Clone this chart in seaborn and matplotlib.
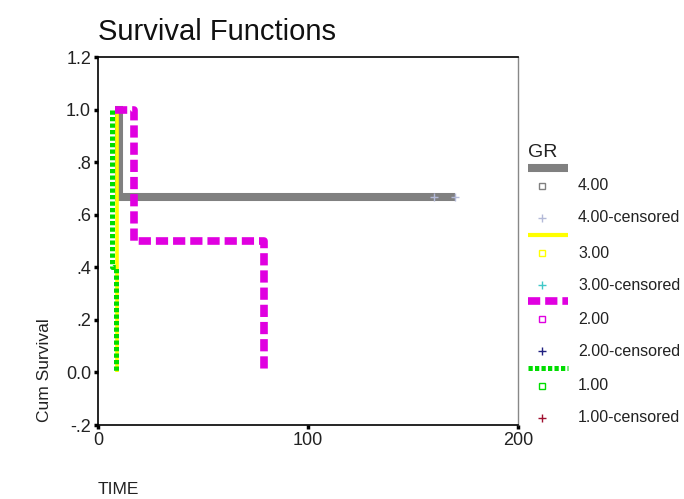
import matplotlib
matplotlib.use("Agg")
import matplotlib.pyplot as plt
import seaborn as sns
import pandas as pd
from matplotlib.lines import Line2D

# ---- data ----
groups = ["4.00", "3.00", "2.00", "1.00"]
time_g4 = [8, 10, 170]
surv_g4 = [1.0, 0.667, 0.667]
time_g3 = [9, 9]
surv_g3 = [1.0, 0.0]
time_g2 = [8, 17, 79]
surv_g2 = [1.0, 0.5, 0.0]
time_g1 = [6.5, 6.5, 8.5]
surv_g1 = [1.0, 0.4, 0.0]
cens_time_g4 = [160, 170]
cens_surv_g4 = [0.667, 0.667]

x_ticks = [0, 100, 200]
y_ticks = [-0.2, 0.0, 0.2, 0.4, 0.6, 0.8, 1.0, 1.2]
y_tick_labels = ["-.2", "0.0", ".2", ".4", ".6", ".8", "1.0", "1.2"]

# ---- styles ----
line_colors = ["#808080", "#ffff00", "#e000e0", "#00dd00"]
line_widths = [5.8, 2.6, 5.5, 3.6]
line_styles = ["-", "-", (0, (1.6, 0.65)), (0, (0.85, 0.45))]
cens_colors = ["#b4bad8", "#40c8c8", "#202080", "#a01030"]

sns.set_theme(style="white")
plt.rcParams["font.family"] = ["Liberation Sans", "DejaVu Sans"]

fig = plt.figure(figsize=(6.84, 4.99), dpi=100)
W, H = 684, 499
ax = fig.add_axes([98 / W, 74 / H, 420 / W, 368 / H])

series = [(time_g4, surv_g4), (time_g3, surv_g3), (time_g2, surv_g2), (time_g1, surv_g1)]
for (t, s), c, lw, ls in zip(series, line_colors, line_widths, line_styles):
    df = pd.DataFrame({"TIME": t, "Cum Survival": s})
    sns.lineplot(data=df, x="TIME", y="Cum Survival", estimator=None, sort=False,
                 drawstyle="steps-post", color=c, linewidth=lw, linestyle=ls,
                 solid_capstyle="butt", solid_joinstyle="miter", ax=ax)

sns.scatterplot(x=cens_time_g4, y=cens_surv_g4, marker="+", color=cens_colors[0],
                s=30, linewidth=1.0, ax=ax, zorder=5)

ax.set_xlim(0, 200)
ax.set_ylim(-0.2, 1.2)
ax.set_xticks(x_ticks)
ax.set_xticklabels([str(v) for v in x_ticks])
ax.set_yticks(y_ticks)
ax.set_yticklabels(y_tick_labels)
ax.tick_params(axis="both", which="major", direction="out", length=3, width=2.5,
               color="black", labelsize=13, pad=2, labelcolor="#222222")
ax.tick_params(bottom=True, left=True)

for side in ["left", "bottom", "top"]:
    ax.spines[side].set_color("black")
    ax.spines[side].set_linewidth(1.2)
ax.spines["right"].set_color("#888888")
ax.spines["right"].set_linewidth(1.0)

ax.set_title("Survival Functions", loc="left", fontsize=21, pad=12, color="#111111")
ax.set_xlabel("TIME", fontsize=12.5, color="#222222")
ax.xaxis.set_label_coords(0.0, -0.155)
ax.xaxis.label.set_horizontalalignment("left")
ax.set_ylabel("Cum Survival", fontsize=12.5, color="#222222")
ax.yaxis.set_label_coords(-0.11, 0.15)

# ---- legend (outside, right) ----
def fx(px):
    return px / W

def fy(py):
    return 1 - py / H

tf = fig.transFigure
fig.text(fx(528), fy(152), "GR", fontsize=14, va="center", ha="left", transform=tf, color="#222222")
line_rows = [168, 235, 301, 368]
for i, g in enumerate(groups):
    ly = line_rows[i]
    fig.add_artist(Line2D([fx(528), fx(568)], [fy(ly), fy(ly)], color=line_colors[i],
                          linewidth=line_widths[i] if i != 1 else 3.0,
                          linestyle=line_styles[i], solid_capstyle="butt",
                          transform=tf))
    ny = ly + 18
    cy = ly + 50
    fig.add_artist(Line2D([fx(542)], [fy(ny)], marker="s", markersize=4.5,
                          markerfacecolor="none", markeredgecolor=line_colors[i],
                          markeredgewidth=1.0, linestyle="none", transform=tf))
    fig.text(fx(578), fy(ny), g, fontsize=11.5, va="center", ha="left", transform=tf, color="#222222")
    fig.add_artist(Line2D([fx(542)], [fy(cy)], marker="+", markersize=6,
                          color=cens_colors[i], markeredgewidth=1.0,
                          linestyle="none", transform=tf))
    fig.text(fx(578), fy(cy), g + "-censored", fontsize=11.5, va="center", ha="left",
             transform=tf, color="#222222")

fig.savefig("out.png", dpi=100)
